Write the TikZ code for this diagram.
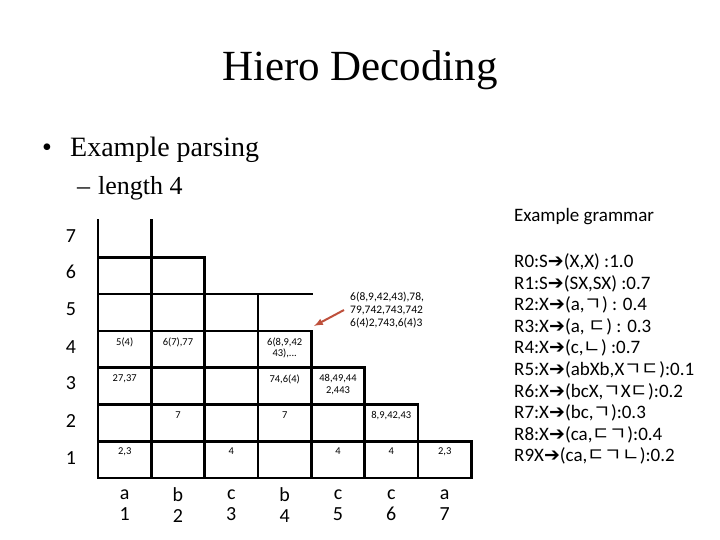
\documentclass[tikz,border=0pt]{standalone}
\usepackage{fontspec}
\setmainfont{Liberation Serif}
\newfontfamily\gramfont{Carlito}
\newfontfamily\jamofont{Noto Sans CJK KR}
\newfontfamily\symbfont{DejaVu Sans}
\usetikzlibrary{positioning}
\definecolor{callred}{RGB}{190,80,60}
\newcommand{\jm}[1]{{\jamofont #1}}
\newcommand{\garr}{{\symbfont ➔}}

\begin{document}
\begin{tikzpicture}[x=1pt,y=-1pt,
    chart/.style={line width=2.6pt,line cap=rect},
    cell/.style={anchor=north,inner sep=0pt,align=center,font=\gramfont\fontsize{10.5}{11.5}\selectfont},
    rowlab/.style={inner sep=0pt,font=\gramfont\fontsize{20}{20}\selectfont},
    wordlab/.style={inner sep=0pt,align=center,font=\gramfont\fontsize{20}{21}\selectfont}]
      \useasboundingbox (0,0) rectangle (720,540);
      \node (title) at (360,70) {\fontsize{43}{43}\selectfont Hiero Decoding};
      \node (bullet) [anchor=base west,inner sep=0pt] at (42,157) {\fontsize{28}{28}\selectfont \textbullet};
      \node (parsing) [anchor=base west,inner sep=0pt] at (70,157) {\fontsize{28}{28}\selectfont Example parsing};
      \node (dash) [anchor=base west,inner sep=0pt] at (77,195) {\fontsize{26}{26}\selectfont --};
      \node (length) [anchor=base west,inner sep=0pt] at (98,195) {\fontsize{26}{26}\selectfont length 4};
      \draw [chart] (98,478) -- (471.3,478);
      \draw [chart] (98,441.2) -- (471.3,441.2);
      \draw [chart] (98,404.4) -- (418,404.4);
      \draw [chart] (98,367.6) -- (364.6,367.6);
      \draw [chart] (98,330.8) -- (311.3,330.8);
      \draw [chart] (98,294) -- (311.3,294);
      \draw [chart] (98,257.2) -- (204.6,257.2);
      \draw [chart] (98,478) -- (98,220.4);
      \draw [chart] (151.3,478) -- (151.3,220.4);
      \draw [chart] (204.6,478) -- (204.6,257.2);
      \draw [chart] (258,478) -- (258,294);
      \draw [chart] (311.3,478) -- (311.3,330.8);
      \draw [chart] (364.6,478) -- (364.6,367.6);
      \draw [chart] (418,478) -- (418,404.4);
      \draw [chart] (471.3,478) -- (471.3,441.2);
      \node (r7) [rowlab] at (71,236) {7};
      \node (r6) [rowlab] at (71,272) {6};
      \node (r5) [rowlab] at (71,309) {5};
      \node (r4) [rowlab] at (71,347) {4};
      \node (r3) [rowlab] at (71,383) {3};
      \node (r2) [rowlab] at (71,421) {2};
      \node (r1) [rowlab] at (71,458) {1};
      \node (c41) [cell] at (124.7,337.5) {5(4)};
      \node (c42) [cell] at (178,337.5) {6(7),77};
      \node (c44) [cell] at (284.7,337.5) {6(8,9,42\\43),...};
      \node (c31) [cell] at (124.7,374.3) {27,37};
      \node (c34) [cell] at (284.7,374.3) {74,6(4)};
      \node (c35) [cell] at (338,374.3) {48,49,44\\2,443};
      \node (c22) [cell] at (178,411.1) {7};
      \node (c24) [cell] at (284.7,411.1) {7};
      \node (c26) [cell] at (391.3,411.1) {8,9,42,43};
      \node (c11) [cell] at (124.7,447.9) {2,3};
      \node (c13) [cell] at (231.3,447.9) {4};
      \node (c15) [cell] at (338,447.9) {4};
      \node (c16) [cell] at (391.3,447.9) {4};
      \node (c17) [cell] at (444.7,447.9) {2,3};
      \node (w1) [wordlab] at (124.7,505) {a\\1};
      \node (w2) [wordlab] at (178,505) {b\\2};
      \node (w3) [wordlab] at (231.3,505) {c\\3};
      \node (w4) [wordlab] at (284.7,505) {b\\4};
      \node (w5) [wordlab] at (338,505) {c\\5};
      \node (w6) [wordlab] at (391.3,505) {c\\6};
      \node (w7) [wordlab] at (444.7,505) {a\\7};
      \node (callout) [anchor=west,inner sep=0pt,align=left,font=\gramfont\fontsize{11.5}{13.2}\selectfont] at (350,310)
        {6(8,9,42,43),78,\\79,742,743,742\\6(4)2,743,6(4)3};
      \coordinate (tip) at (314,326);
      \draw [-latex,callred,line width=2pt] (callout.west) ++(-6,0) -- (tip);
      \node (gtitle) [anchor=west,inner sep=0pt,font=\gramfont\fontsize{19}{19}\selectfont] at (514,217) {Example grammar};
      \node (rules) [anchor=west,inner sep=0pt,align=left,font=\gramfont\fontsize{19}{21.6}\selectfont] at (514,359)
        {R0:S\garr(X,X) :1.0\\
         R1:S\garr(SX,SX) :0.7\\
         R2:X\garr(a,\jm{ㄱ}) : 0.4\\
         R3:X\garr(a, \jm{ㄷ}) : 0.3\\
         R4:X\garr(c,\jm{ㄴ}) :0.7\\
         R5:X\garr(abXb,X\jm{ㄱ}\jm{ㄷ}):0.1\\
         R6:X\garr(bcX,\jm{ㄱ}X\jm{ㄷ}):0.2\\
         R7:X\garr(bc,\jm{ㄱ}):0.3\\
         R8:X\garr(ca,\jm{ㄷ}\jm{ㄱ}):0.4\\
         R9X\garr(ca,\jm{ㄷ}\jm{ㄱ}\jm{ㄴ}):0.2};
\end{tikzpicture}
\end{document}
